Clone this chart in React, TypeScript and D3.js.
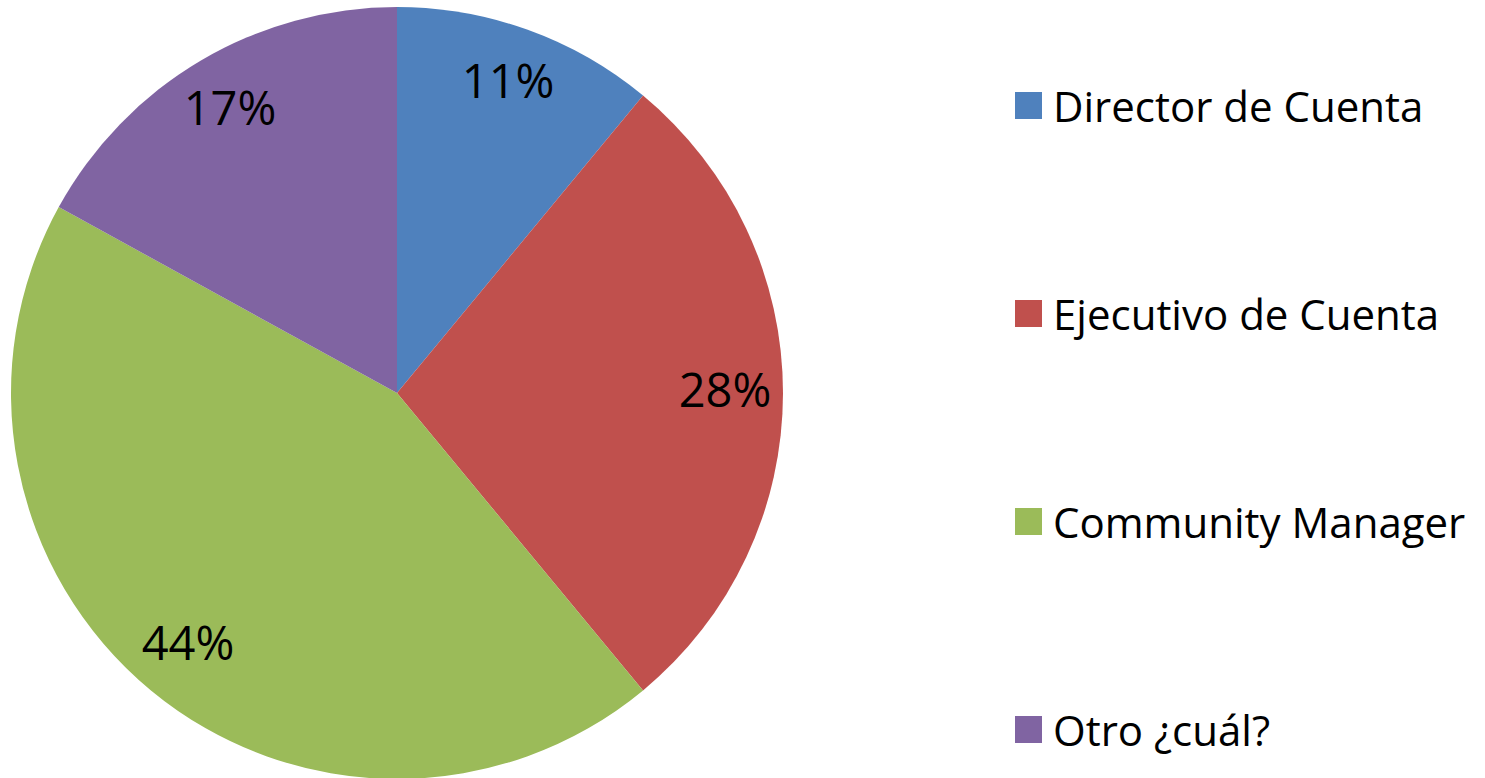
import React from 'react'
import * as d3 from 'd3'

const categories = ['Director de Cuenta', 'Ejecutivo de Cuenta', 'Community Manager', 'Otro ¿cuál?']
const values = [11, 28, 44, 17]
const colors = ['#4F81BD', '#C0504D', '#9BBB59', '#8064A2']

const width = 1485
const height = 778
const cx = 397
const cy = 393
const radius = 386
const labelRadius = 328
const font = '"Open Sans", "Noto Sans", sans-serif'

const App = () => {
  const pie = d3.pie<number>().sort(null).value((d) => d)
  const arcs = pie(values)
  const arc = d3.arc<d3.PieArcDatum<number>>().innerRadius(0).outerRadius(radius)
  const labelArc = d3.arc<d3.PieArcDatum<number>>().innerRadius(labelRadius).outerRadius(labelRadius)
  const total = d3.sum(values)

  const legendY = d3.scalePoint<string>().domain(categories).range([105, 729])

  return (
    <svg width={width} height={height} style={{ position: 'absolute', left: 0, top: 0, background: 'white' }}>
      <g transform={`translate(${cx}, ${cy})`}>
        {arcs.map((a, i) => (
          <path key={i} d={arc(a) || ''} fill={colors[i]} />
        ))}
        {arcs.map((a, i) => {
          const [x, y] = labelArc.centroid(a)
          return (
            <text
              key={'l' + i}
              x={x}
              y={y - 4}
              textAnchor="middle"
              dominantBaseline="central"
              style={{ font: `47px ${font}`, fill: '#000' }}
            >
              {Math.round((values[i] / total) * 100)}%
            </text>
          )
        })}
      </g>
      {categories.map((c, i) => (
        <g key={c} transform={`translate(1015, ${legendY(c)})`}>
          <rect x={0} y={-13} width={27} height={27} fill={colors[i]} />
          <text x={38} y={0} dominantBaseline="central" style={{ font: `42px ${font}`, fill: '#000' }}>
            {c}
          </text>
        </g>
      ))}
    </svg>
  )
}

export default App
